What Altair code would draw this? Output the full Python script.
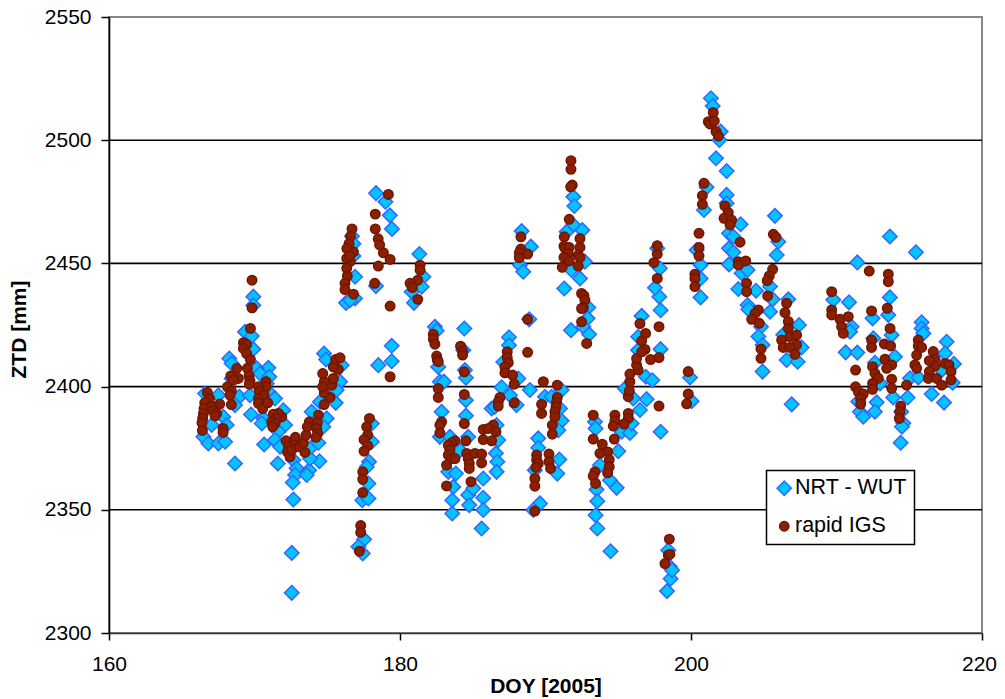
import altair as alt
import pandas as pd

SERIES = ["NRT - WUT", "rapid IGS"]
GRID_ZTD = [2350, 2400, 2450, 2500]
X_TICKS = [160, 180, 200, 220]
Y_TICKS = [2300, 2350, 2400, 2450, 2500, 2550]

nrt_wut = [
(169.92,2436.5),(169.92,2433),(169.35,2422.2),(169.81,2420.5),(169.92,2415.2),(168.27,2411.4),(168.43,2409.4),
(170.95,2407.6),(170.15,2407.4),(170.38,2405.3),(171.02,2404),(168.43,2403.3),(170.84,2401.3),(168.96,2395.9),
(169.69,2396.5),(168.66,2392.5),(169.76,2388.7),(166.60,2397.2),(167.52,2396.5),(170.95,2397.9),(171.41,2395.2),
(167.86,2387.7),(168.09,2384.4),(167.06,2384.4),(170.61,2387.1),(170.50,2385),(171.98,2390.4),(172.10,2384.4),
(171.64,2381.7),(168.66,2368.8),(170.66,2376.5),(171.41,2378.3),(171.76,2375.6),(171.60,2368.8),(166.49,2379.6),
(166.83,2376.9),(167.52,2376.9),(167.98,2377.6),(172.67,2370.2),(172.90,2366.8),(172.79,2364.1),(172.63,2361.1),
(172.67,2354.2),(172.56,2332.5),(172.56,2316.3),(173.75,2366.1),(173.59,2364.1),(174.46,2369.7),(173.82,2370.8),
(173.93,2375.6),(174.39,2377.2),(174.96,2387.1),(174.73,2383.7),(173.93,2389.8),(174.50,2393.8),(175.58,2393.4),
(175.88,2402),(175.99,2408.7),(175.65,2398.6),(174.78,2413.4),(174.92,2411),
(176.91,2444.6),(176.29,2434),(176.91,2435.8),(176.57,2435.1),(176.80,2453),(176.7,2461),(176.8,2458),
(178.35,2440.8),(179.43,2416.6),(178.51,2408.7),(179.43,2410.3),(178.35,2478.5),(179.0,2475),(179.3,2469.5),(179.45,2464),
(181.33,2453.8),(181.61,2444.6),(181.49,2440.5),(180.80,2438.5),(180.96,2434),
(178.06,2385),(178.06,2377.6),(177.87,2369.5),(177.71,2367.4),(177.83,2360.7),(177.41,2353.9),(177.83,2354.6),
(177.53,2338),(177.14,2335),(177.44,2332.3),
(182.40,2424.3),(182.52,2422.7),(184.42,2423.6),(184.35,2414.8),(184.46,2406.7),(184.53,2403.6),(184.53,2394.5),
(184.53,2388.2),(182.63,2408),(182.74,2402),(183.02,2402),(182.86,2389.8),(182.74,2379.6),(183.43,2379.6),
(184.69,2379.6),(184.12,2374.2),(183.32,2365.4),(183.84,2364.7),(183.66,2359.3),(183.59,2353.9),(183.59,2348.5),
(184.69,2356),(184.76,2351.9),(185.04,2358.7),(185.72,2362.7),(185.72,2354.9),(185.72,2349.9),(185.61,2342.4),
(186.59,2372.9),(186.69,2369.5),(186.64,2365.4),(186.75,2378.3),(186.64,2384.4),(186.30,2391.1),(186.52,2391.8),
(186.98,2399.7),(187.56,2396.5),(188.01,2392.5),(188.13,2403.3),(187.49,2420),(187.49,2416.8),(187.10,2410),
(188.93,2398.6),(188.36,2463.1),(189.0,2456.8),(188.24,2449.3),(188.47,2446.6),(188.88,2427.3),(189.50,2379),
(189.50,2375.2),(189.27,2366.1),(189.62,2352.6),(189.16,2349.9),(189.96,2395.9),(190.42,2395.9),(191.11,2398.6),
(191.0,2391.1),(191.11,2386.1),(190.88,2382.3),(190.95,2370.4),(190.81,2364.7),(191.29,2439.8),(191.91,2477),
(191.98,2473.3),(191.91,2465.6),(191.45,2462.8),(192.53,2463.5),(192.71,2450.7),(191.79,2447.3),(192.37,2443.9),
(192.94,2432.1),(192.89,2427.7),(192.60,2424.3),(191.75,2422.9),(193.0,2421.2),(193.40,2385.7),(193.44,2383),
(195.0,2373.8),(193.74,2368.1),(194.43,2362),(194.89,2358.9),(193.51,2358.2),(193.56,2353.5),(193.44,2347.8),
(193.56,2342.4),(194.47,2333.2),(195.23,2381.7),(195.80,2381.2),(195.92,2385),(196.49,2390.5),(196.95,2394.9),
(196.03,2395.2),(195.46,2399.2),(196.90,2404),(197.34,2402.6),(196.61,2428.7),(196.37,2420.2),(196.37,2414.8),
(197.91,2415.2),(197.91,2431),(197.82,2436.5),(197.52,2440.1),(197.86,2448),(197.68,2456.1),(197.91,2381.7),
(198.44,2333.6),(198.55,2326.9),(198.35,2317),(198.6,2322),(198.7,2325.5),
(201.37,2517),(201.49,2513.9),(202.04,2503.5),(201.95,2500.1),(201.72,2492.7),(202.45,2487.5),(201.07,2480.9),
(200.89,2471.7),(202.45,2477.8),(202.45,2474.4),(203.41,2465.9),(205.77,2469.3),(206.0,2458.8),(205.89,2453.4),
(202.61,2462.2),(202.91,2460.9),(202.61,2456.1),(202.91,2454.5),(202.61,2449.6),(203.48,2446),(203.89,2447.3),
(203.25,2439.6),(204.47,2438.9),(205.43,2440.6),(205.61,2435.4),(203.89,2433.1),(203.94,2431.4),(205.43,2430.4),
(204.81,2424.3),(204.63,2420.3),(204.92,2416.9),(204.92,2406.1),(206.69,2435.4),(207.42,2425),(206.34,2421),
(207.60,2415.9),(206.57,2410.8),(207.33,2410.1),(206.92,2392.8),(200.39,2455.4),(200.66,2449.4),(200.66,2443.9),
(200.66,2436.2),(199.93,2403.7),(200.04,2394.1),(209.78,2435.2),(210.86,2434.2),(211.04,2424.3),(210.93,2422.3),
(210.63,2413.9),(211.43,2413.8),(211.43,2450.4),(212.48,2427.7),(212.53,2419.6),(213.67,2460.9),(215.46,2454.5),
(213.67,2436.2),(213.56,2429.1),(213.79,2420.9),(214.02,2412.1),(212.64,2409.7),(212.99,2401.3),(212.76,2393.6),
(212.64,2389.8),(213.90,2395.6),(211.50,2393.9),(211.61,2389.8),(211.84,2387.8),(214.89,2395.6),(215.05,2403.4),
(215.62,2403.7),(215.85,2426.1),(215.85,2423.6),(215.97,2421.6),(217.57,2418.2),(217.46,2413.5),(218.07,2409.2),
(217.23,2406.7),(216.54,2397),(217.39,2393.5),(217.98,2401.6),(214.59,2385.1),(214.41,2377.2),(214.5,2383.7),(214.45,2389.8),
]

rapid_igs = [
(166.76,2397.6),(166.90,2395.2),(166.58,2393.4),(166.53,2391.1),(166.49,2389.1),(166.44,2387.1),(166.39,2385.3),
(166.42,2382.2),(167.61,2392.9),(167.29,2391.8),(167.06,2391.8),(167.17,2390.2),(167.40,2389.1),(167.29,2388.1),
(167.84,2383),(167.84,2381.4),(168.14,2399.9),(168.41,2398.3),(168.32,2396.5),(168.41,2392.7),(168.37,2404.3),
(168.78,2407.4),(168.89,2403.3),(168.55,2402.6),(169.24,2417.8),(169.46,2417.1),(169.24,2415.5),(169.46,2413.4),
(169.72,2411),(169.51,2407.4),(169.62,2404.3),(169.69,2402.4),(169.65,2401),(169.83,2443.2),(169.83,2432),
(169.72,2423.6),(170.79,2402),(170.79,2399.9),(170.27,2399.9),(170.34,2397.9),(170.66,2396.5),(170.27,2395.2),
(170.27,2393.2),(170.56,2391.1),(170.91,2393.4),(171.87,2387.7),(171.64,2389.1),(171.30,2388.8),(171.53,2387.1),
(171.18,2385.7),(171.41,2385),(171.25,2383.7),(172.17,2378),(172.81,2379.4),(172.33,2375.6),(172.26,2373.5),
(172.79,2376.2),(172.44,2371.5),(172.56,2374.2),(173.08,2375.6),(173.47,2373.3),(173.36,2377.2),(173.54,2380.3),
(173.77,2385.7),(173.63,2383.7),(174.39,2388.4),(174.32,2385.3),(174.28,2383),(174.34,2381),(174.23,2379.4),
(174.78,2392.7),(175.19,2395.6),(174.80,2397.5),(175.31,2400.6),(175.42,2403.3),(174.80,2402),(174.69,2405.3),
(174.69,2399.9),(175.76,2407),(175.42,2408),(175.58,2411),(175.88,2411.7),
(176.80,2454.7),(176.57,2450.7),(176.34,2452),(176.34,2448),(176.38,2444.8),(176.22,2441.9),(176.22,2439.4),
(176.80,2437.5),(176.7,2464),(176.6,2461),(176.5,2458),(176.35,2456),(176.55,2453),
(177.90,2387.1),(177.71,2383.7),(177.78,2380.3),(177.53,2378.5),(177.78,2376),(177.53,2373.8),(177.44,2365.4),
(177.44,2362.4),(177.44,2357),(177.30,2343.6),(177.30,2340.8),(177.21,2333.2),
(178.51,2448.9),(179.32,2451.6),(178.86,2454.3),(178.26,2441.9),(179.32,2432.7),(179.32,2404),(178.3,2470),
(178.3,2464),(178.5,2460),(178.6,2457.5),(179.2,2478),
(181.38,2449.3),(181.38,2447.3),(181.22,2443.2),(180.69,2441.9),(180.85,2440.2),(181.22,2435.4),
(182.29,2421.2),(182.29,2419.3),(182.40,2417.2),(182.52,2412.4),(182.56,2411),(182.63,2410.1),(182.63,2399.2),
(182.63,2395.6),(182.86,2385.7),(182.74,2384.4),(182.74,2381.2),(183.78,2378),(183.55,2377.2),(183.32,2376.2),
(183.43,2374.2),(183.32,2372.2),(183.55,2370.8),(183.78,2370.8),(183.20,2368.1),(183.20,2359.7),(184.16,2416.4),
(184.30,2414.4),(184.30,2412.8),(184.42,2406),(184.42,2396.8),(184.42,2385),(184.53,2378),(184.58,2372.9),
(184.69,2370.8),(184.76,2368.8),(184.76,2366.8),(185.15,2372.9),(185.61,2372.6),(185.61,2369),(184.88,2361.4),
(185.72,2382.6),(185.72,2378.5),(186.41,2384.4),(186.59,2381.7),(186.30,2378),(186.07,2383),(186.87,2395.6),
(186.75,2393.8),(186.75,2392.1),(187.37,2414.1),(187.37,2411.8),(187.44,2409.7),(187.21,2408),(187.21,2405.6),
(187.74,2404.7),(187.85,2401),(187.85,2393.4),(188.31,2460.8),(188.31,2455.8),(188.20,2454.3),(188.77,2453.8),
(188.20,2452.3),(188.77,2427.3),(188.77,2413.9),(189.85,2402),(189.73,2392.8),(189.73,2389.1),(189.39,2372.2),
(189.39,2370.2),(189.50,2368.8),(189.34,2367.2),(189.27,2362.7),(189.27,2359.6),(189.27,2349.5),(190.81,2400.6),
(190.81,2395.6),(190.76,2393.8),(190.72,2391.8),(190.65,2389.8),(190.65,2387.7),(190.47,2384.4),(190.47,2380.7),
(190.24,2372.6),(190.24,2369.5),(190.35,2366.8),(191.75,2491.7),(191.75,2488.2),(191.84,2481.8),(191.73,2481.1),
(191.63,2467.9),(191.29,2460.8),(191.27,2457),(191.34,2456.1),(191.63,2456.5),(191.56,2454),(191.27,2452.4),
(191.63,2451),(191.15,2448.4),(192.37,2460.1),(192.37,2456.5),(192.25,2453.4),(192.37,2452.4),(192.25,2448.9),
(192.48,2437.8),(192.64,2436.9),(192.71,2435.1),(192.60,2432.1),(192.48,2431.7),(192.48,2426.3),(192.83,2417.5),
(193.28,2388.4),(193.28,2378.7),(193.90,2376.6),(194.27,2373.5),(193.74,2372.9),(194.38,2370.4),(194.38,2367.4),
(194.27,2365),(193.40,2365.4),(193.28,2363.7),(193.44,2360.7),(194.77,2388.4),(194.77,2386.1),(194.66,2384),
(194.73,2378.7),(195.69,2389.1),(195.69,2387.1),(195.39,2384.8),(195.69,2395.9),(195.76,2398.3),(195.80,2402),
(195.80,2405.1),(196.37,2406.7),(196.26,2408.7),(196.26,2411.4),(196.84,2415.1),(196.61,2414.1),(196.61,2418.6),
(196.88,2421.6),(196.49,2425.6),(197.22,2411),(197.80,2411.8),(197.80,2424.3),(197.68,2443.9),(197.45,2450.3),
(197.68,2453.8),(197.68,2457.2),(197.80,2392.1),(198.51,2338.1),(198.44,2331.6),(198.21,2328.2),(198.55,2332),
(201.53,2511.2),(201.19,2507.5),(201.30,2506.6),(201.60,2507.8),(201.72,2503.5),(201.88,2501.7),(200.89,2482.5),
(200.78,2477.5),(200.78,2474),(200.55,2462.2),(200.55,2456.5),(200.55,2453.1),(200.27,2445.6),(200.27,2443.9),
(200.27,2440.6),(199.81,2406.1),(199.81,2397),(199.70,2393),(202.33,2473.3),(202.56,2470.6),(202.27,2468.3),
(202.79,2467.6),(202.68,2465.6),(203.37,2458.6),(203.25,2450.7),(203.76,2451),(203.25,2449.4),(203.82,2441.9),
(203.82,2438.5),(204.63,2431.1),(204.40,2429.7),(204.17,2427.3),(204.69,2425.7),(204.81,2415.3),(204.81,2411.5),
(205.66,2461.8),(205.84,2460.6),(205.61,2447.6),(205.38,2444.9),(205.24,2443),(205.27,2436.8),(206.57,2433.8),
(206.46,2430),(206.69,2426.4),(206.69,2423.6),(206.23,2418.9),(206.34,2415.9),(206.80,2420.3),(207.26,2420.9),
(207.26,2416.9),(206.80,2415.9),(207.15,2413.1),(209.67,2438.5),(209.67,2431.1),(209.67,2429.1),(210.24,2427.3),
(210.81,2428.4),(210.35,2424.3),(210.47,2421.6),(211.31,2406.7),(211.31,2399.9),(211.50,2397.9),(211.84,2397),
(211.66,2395.2),(211.66,2392.9),(212.25,2446.9),(212.41,2430.7),(212.41,2418.9),(212.41,2415.9),(212.48,2408.1),
(212.64,2405.4),(212.87,2403.4),(212.48,2401.3),(212.48,2398.9),(213.56,2445.6),(213.56,2442.6),(213.49,2431.8),
(213.68,2423.6),(213.29,2417.3),(213.72,2416.5),(213.33,2411.1),(213.79,2408.8),(213.45,2407.4),(213.79,2403),
(213.79,2399.3),(214.41,2392.1),(214.36,2389.8),(214.32,2387.1),(214.82,2400.6),(215.62,2418.9),(215.62,2416.5),
(215.85,2415.9),(215.51,2412.8),(215.39,2408.8),(215.51,2407.4),(216.65,2414.2),(216.77,2411.1),(216.77,2408.4),
(216.38,2410.5),(216.38,2406.1),(216.31,2403.3),(216.88,2403.3),(217.46,2409.4),(217.73,2408.8),(217.87,2406.1),
(217.87,2402.7),(217.23,2400.6),
]

rows = [{"doy": d, "ztd": z, "series": SERIES[0]} for d, z in nrt_wut]
rows += [{"doy": d, "ztd": z, "series": SERIES[1]} for d, z in rapid_igs]
df = pd.DataFrame(rows)

FONT = "Liberation Sans"
legend = alt.Legend(
    title=None, orient="none", legendX=657.5, legendY=453.5,
    fillColor="white", strokeColor="black", padding=7, rowPadding=15,
    labelFontSize=21.5, labelFont=FONT, labelColor="black", labelOffset=0,
    symbolStrokeWidth=1.4, symbolOffset=0,
)
y_scale = alt.Scale(domain=[2300, 2550], nice=False, zero=False)
y_axis = alt.Axis(values=Y_TICKS, title="ZTD [mm]", grid=False, format="d",
                  tickSize=8, tickColor="black", tickWidth=1.5, domainColor="black", domainWidth=1.6,
                  labelPadding=10, labelFlush=False, labelOverlap=False, titleX=-80, titleY=312)

grid = alt.Chart(pd.DataFrame({"ztd": GRID_ZTD})).mark_rule(color="black", strokeWidth=1.6).encode(
    y=alt.Y("ztd:Q", scale=y_scale, axis=y_axis),
)

points = alt.Chart(df).mark_point(filled=True, opacity=1, strokeWidth=1.5).encode(
    x=alt.X("doy:Q", scale=alt.Scale(domain=[160, 220], nice=False, zero=False),
            axis=alt.Axis(values=X_TICKS, title="DOY [2005]", grid=False, format="d",
                          tickSize=7, tickColor="black", tickWidth=1.5, domainColor="#333333", domainWidth=1.6,
                          labelPadding=13, labelFlush=False, labelOverlap=False, titlePadding=1,
                          labelOffset={"condition": {"test": "datum.value === 220", "value": -3}, "value": 0})),
    y=alt.Y("ztd:Q", scale=y_scale, axis=y_axis),
    shape=alt.Shape("series:N", scale=alt.Scale(domain=SERIES, range=["diamond", "circle"]), legend=legend),
    fill=alt.Fill("series:N", scale=alt.Scale(domain=SERIES, range=["#00C4FF", "#8B2000"]), legend=legend),
    stroke=alt.Stroke("series:N", scale=alt.Scale(domain=SERIES, range=["#3366FF", "#701500"]), legend=legend),
    size=alt.Size("series:N", scale=alt.Scale(domain=SERIES, range=[210, 90]), legend=legend),
    order=alt.Order("series:N"),
)

chart = alt.layer(grid, points).properties(
    width=873, height=616, background="white",
    autosize=alt.AutoSizeParams(type="none"),
    padding={"left": 101, "top": 9, "right": 15, "bottom": 66},
).configure_view(stroke="#888888", strokeWidth=2
).configure_axis(
    labelFont=FONT, titleFont=FONT, labelFontSize=21, titleFontSize=21,
    titleFontWeight="bold", labelColor="black", titleColor="black",
).configure_legend(strokeWidth=1.5)

chart.save("out.html", embed_options={"renderer": "svg", "actions": False})
